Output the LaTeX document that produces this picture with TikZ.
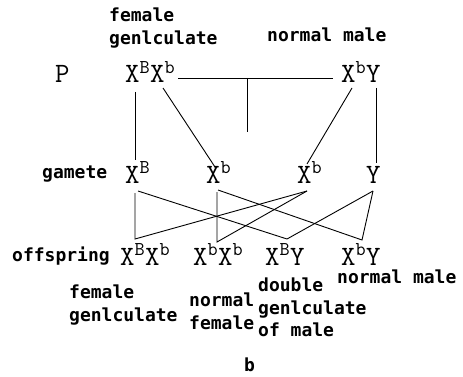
\documentclass[tikz,border=0pt]{standalone}
\usepackage{fontspec}
\newfontfamily\lblfont{DejaVu Sans Mono}
\tikzset{
  geno/.style={font=\ttfamily\fontsize{28}{32}\selectfont, inner sep=0pt, anchor=base west},
  lbl/.style={font=\lblfont\bfseries\fontsize{18}{22.5}\selectfont, inner sep=0pt, align=left, anchor=north west},
  wire/.style={line width=0.9pt}
}
\newcommand{\alB}{\textsuperscript{B}}
\newcommand{\alb}{\textsuperscript{b}}
\begin{document}
\begin{tikzpicture}[x=1pt, y=-1pt]
    \useasboundingbox (0,0) rectangle (463,377);
    % parents
    \node[geno] (P) at (55,83) {P};
    \node[geno] (pF) at (125,83) {X\alB X\alb};
    \node[geno] (pM) at (341,83) {X\alb Y};
    \node[lbl] (pFlbl) at (109,8) {female\\genlculate};
    \node[lbl] (pMlbl) at (267,28) {normal male};
    % gametes
    \node[lbl, anchor=base west] (glbl) at (42,178) {gamete};
    \node[geno] (gFB) at (125,183) {X\alB};
    \node[geno] (gFb) at (206,183) {X\alb};
    \node[geno] (gMb) at (297,183) {X\alb};
    \node[geno] (gMY) at (366,183) {Y};
    % offspring
    \node[lbl, anchor=base west] (olbl) at (12,261) {offspring};
    \node[geno] (o1) at (120,265) {X\alB X\alb};
    \node[geno] (o2) at (193,265) {X\alb X\alb};
    \node[geno] (o3) at (265,265) {X\alB Y};
    \node[geno] (o4) at (341,265) {X\alb Y};
    \node[lbl] (o1lbl) at (69,285) {female\\genlculate};
    \node[lbl] (o2lbl) at (189,293) {normal\\female};
    \node[lbl] (o3lbl) at (258,278) {double\\genlculate\\of male};
    \node[lbl] (o4lbl) at (337,270) {normal male};
    \node[lbl] (cap) at (244,358) {b};
    % connector ends
    \coordinate (crossL) at (178,78);
    \coordinate (crossR) at (333,78);
    \coordinate (crossM) at (247,78);
    \coordinate (crossD) at (247,132);
    \coordinate (pFB) at (135,92);
    \coordinate (pFb) at (163,88);
    \coordinate (pMb) at (352,88);
    \coordinate (pMY) at (376,88);
    \coordinate (gFBu) at (135,160);
    \coordinate (gFbu) at (215,167);
    \coordinate (gMbu) at (307,164);
    \coordinate (gMYu) at (376,163);
    \coordinate (gFBd) at (135,193);
    \coordinate (gFBr) at (138,191);
    \coordinate (gFbd) at (217,192);
    \coordinate (gFbr) at (218,190);
    \coordinate (gMbd) at (307,191);
    \coordinate (gMYd) at (373,191);
    \coordinate (o1u) at (135,239);
    \coordinate (o2u) at (217,242);
    \coordinate (o3u) at (287,239);
    \coordinate (o4u) at (362,240);
    % cross
    \draw[wire] (crossL) -- (crossR);
    \draw[wire] (crossM) -- (crossD);
    \draw[wire] (pFB) -- (gFBu);
    \draw[wire] (pFb) -- (gFbu);
    \draw[wire] (pMb) -- (gMbu);
    \draw[wire] (pMY) -- (gMYu);
    % fertilisation
    \draw[wire] (gFBd) -- (o1u) -- (gMbd);
    \draw[wire] (gFbd) -- (o2u) -- (gMbd);
    \draw[wire] (gFBr) -- (o3u) -- (gMYd);
    \draw[wire] (gFbr) -- (o4u) -- (gMYd);
\end{tikzpicture}
\end{document}
